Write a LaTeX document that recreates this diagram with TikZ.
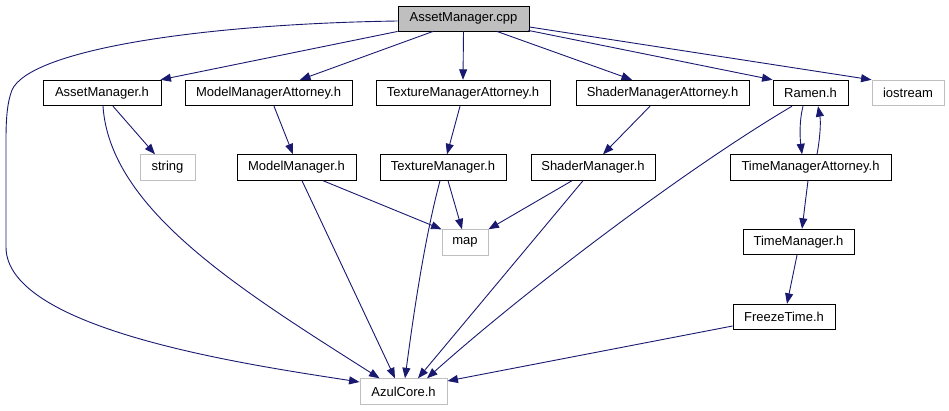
\documentclass[tikz,border=0pt]{standalone}
\usepackage{fontspec}
\setmainfont{Liberation Sans}
\usetikzlibrary{arrows.meta,calc}
\definecolor{azuldep}{HTML}{191970}
\definecolor{grisext}{HTML}{BFBFBF}

\begin{document}
\begin{tikzpicture}[x=1pt, y=-1pt, font=\fontsize{13}{15}\selectfont,
    hdr/.style={draw=black, line width=0.9pt, minimum height=25.5pt, inner sep=2pt},
    ext/.style={hdr, draw=grisext},
    dep/.style={draw=azuldep, line width=0.9pt, -{Triangle[length=10.5pt,width=8pt]}}]
    \useasboundingbox (0,0) rectangle (949,411);
    % fichero raiz
    \node[hdr, fill=grisext, minimum height=25pt, minimum width=131pt] (cpp) at (463.5,18.5) {AssetManager.cpp};
    % primera fila
    \node[hdr, minimum width=118pt] (amh)   at (102,93)   {AssetManager.h};
    \node[hdr, minimum width=167pt] (mma)   at (268.5,93) {ModelManagerAttorney.h};
    \node[hdr, minimum width=174pt] (tma)   at (463,93)   {TextureManagerAttorney.h};
    \node[hdr, minimum width=173pt] (sma)   at (662.5,93) {ShaderManagerAttorney.h};
    \node[hdr, minimum width=75pt]  (ramen) at (810.5,93) {Ramen.h};
    \node[ext, minimum width=72pt]  (io)    at (908,93)   {iostream};
    % segunda fila
    \node[ext, minimum width=55pt]  (str)  at (167.5,167.5) {string};
    \node[hdr, minimum width=119pt] (mm)   at (296.5,167.5) {ModelManager.h};
    \node[hdr, minimum width=126pt] (tm)   at (443,167.5)   {TextureManager.h};
    \node[hdr, minimum width=124pt] (sm)   at (593,167.5)   {ShaderManager.h};
    \node[hdr, minimum width=161pt] (tmat) at (810.5,167.5) {TimeManagerAttorney.h};
    % resto
    \node[ext, minimum width=46pt]  (map)  at (465,242.5)   {map};
    \node[hdr, minimum width=111pt] (tmgr) at (798.5,242)   {TimeManager.h};
    \node[hdr, minimum width=102pt] (ft)   at (784,317)     {FreezeTime.h};
    \node[ext, minimum width=87pt]  (azul) at (403.5,391.5) {AzulCore.h};
    % dependencias desde el .cpp
    \draw[dep] (cpp.south west) -- ($(amh.north east)+(-1,0)$);
    \draw[dep] ($(cpp.south)+(-30.5,0)$) -- ($(mma.north)+(31.5,0)$);
    \draw[dep] (cpp.south) -- (tma.north);
    \draw[dep] ($(cpp.south)+(33.5,0)$) -- ($(sma.north)+(-30.5,0)$);
    \draw[dep] ($(cpp.south east)+(-1,-1)$) -- (ramen.north west);
    \draw[dep] ($(cpp.east)+(0,8.5)$) -- (io.north west);
    \draw[dep] ($(cpp.west)+(0,2.5)$) .. controls +(-198,3) and (30,50) .. (12,90)
        .. controls (7,103) and (6,120) .. (6,140) -- (6,247)
        .. controls (6,330) and (250,365) .. ($(azul.west)+(0,-9.5)$);
    % cabeceras
    \draw[dep] ($(amh.south)+(11,0)$) -- ($(str.north)+(-12.5,0)$);
    \draw[dep] ($(amh.south)+(1,0)$) .. controls +(7,103) and +(-140,-89) .. ($(azul.north west)+(20,0)$);
    \draw[dep] ($(mma.south)+(5.5,0)$) -- ($(mm.north)+(-3.5,0)$);
    \draw[dep] ($(mm.south)+(26.5,0)$) -- (map.north west);
    \draw[dep] ($(mm.south)+(5.5,0)$) -- ($(azul.north)+(-8.5,0)$);
    \draw[dep] ($(tma.south)+(-3,0)$) -- ($(tm.north)+(4,0)$);
    \draw[dep] ($(tm.south)+(5,0)$) -- ($(map.north)+(-3,0)$);
    \draw[dep] ($(tm.south)+(-3,0)$) .. controls +(-16,60) and +(8,-60) .. ($(azul.north)+(1.5,0)$);
    \draw[dep] ($(sma.south)+(-12.5,0)$) -- ($(sm.north)+(10,0)$);
    \draw[dep] ($(sm.south)+(-21,0)$) -- (map.north east);
    \draw[dep] ($(sm.south)+(-10,0)$) -- ($(azul.north)+(14.5,0)$);
    \draw[dep] ($(ramen.south)+(-7.5,0)$) .. controls +(-4,16) and +(-2,-16) .. ($(tmat.north)+(-8.5,0)$);
    \draw[dep] ($(tmat.north)+(6.5,0)$) .. controls +(3,-16) and +(3,16) .. ($(ramen.south)+(7.5,0)$);
    \draw[dep] ($(ramen.south)+(-18.5,0)$) .. controls +(-110,65) and +(95,-85) .. ($(azul.north)+(23.5,0)$);
    \draw[dep] ($(tmat.south)+(-2.5,0)$) -- ($(tmgr.north)+(3.5,0)$);
    \draw[dep] ($(tmgr.south)+(-1.5,0)$) -- ($(ft.north)+(3,0)$);
    \draw[dep] ($(ft.west)+(0,9)$) -- ($(azul.east)+(0,-10.5)$);
\end{tikzpicture}
\end{document}
